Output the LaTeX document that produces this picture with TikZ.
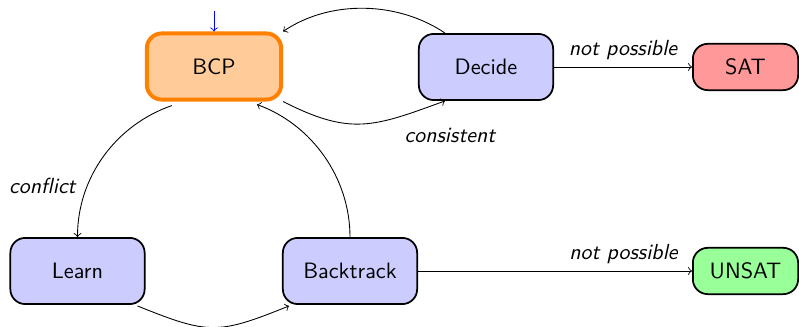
\documentclass[tikz,border=0pt]{standalone}
\usetikzlibrary{calc}
\begin{document}
\begin{tikzpicture}[x=0.458pt,y=0.458pt,
  state/.style={draw=black,thick,rounded corners=6.8pt,fill=blue!20,minimum width=61.5pt,minimum height=30.3pt,font=\fontsize{10.2pt}{12pt}\sffamily,inner sep=0pt},
  final/.style={draw=black,thick,rounded corners=6.8pt,minimum width=48.2pt,minimum height=21.2pt,font=\fontsize{10.2pt}{12pt}\sffamily,inner sep=0pt},
  lbl/.style={font=\sffamily\itshape},
  conn/.style={->,black}]
\useasboundingbox (0,0) rectangle (799,327);
\node[state,draw=orange,line width=1.8pt,fill=orange!40] (bcp) at (214,260.5) {BCP};
\node[state] (dec) at (486,260) {Decide};
\node[final,fill=red!40] (sat) at (745.5,260) {SAT};
\node[state] (learn) at (77.5,56) {Learn};
\node[state] (bt) at (350,56) {Backtrack};
\node[final,fill=green!40] (unsat) at (745.5,56) {UNSAT};
\coordinate (init) at (214,316);
\draw[->,blue] (init) -- (bcp.north);
\draw[conn] ($(dec.north west)+(27,0)$) to[out=146,in=34,looseness=0.9] (bcp.north east);
\draw[conn] (bcp.south east) to[out=-27,in=-160,looseness=1.2] node[pos=1,shift={(5,-35)}] [lbl] {consistent} ($(dec.south west)+(27,0)$);
\draw[conn] ($(bcp.south)+(-42,-4)$) to[out=-161,in=90,looseness=0.94] node[pos=0.7,anchor=east,xshift=-1.8pt,lbl] {conflict} (learn.north);
\draw[conn] (bt.north) to[out=90,in=-20,looseness=0.93] ($(bcp.south)+(43,-3)$);
\draw[conn] ($(learn.south east)+(-8,-1)$) to[out=-22,in=-158,looseness=1.3] ($(bt.south west)+(7,-1)$);
\draw[conn] (dec.east) -- node[midway,above,lbl] {not possible} (sat.west);
\draw[conn] (bt.east) -- node[pos=0.75,above,lbl] {not possible} (unsat.west);
\end{tikzpicture}
\end{document}
